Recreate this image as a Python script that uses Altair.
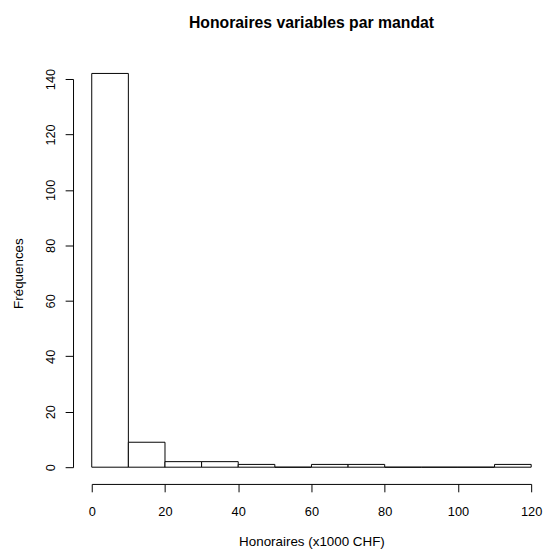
import altair as alt
import pandas as pd

# Histogram bins (x1000 CHF) and frequencies
bin_start = [0, 10, 20, 30, 40, 50, 60, 70, 80, 90, 100, 110]
bin_end = [10, 20, 30, 40, 50, 60, 70, 80, 90, 100, 110, 120]
counts = [142, 9, 2, 2, 1, 0, 1, 1, 0, 0, 0, 1]
x_ticks = [0, 20, 40, 60, 80, 100, 120]
y_ticks = [0, 20, 40, 60, 80, 100, 120, 140]

df = pd.DataFrame({"start": bin_start, "end": bin_end, "count": counts})

FONT = "Liberation Sans"

bars = alt.Chart(df).mark_rect(fill="white", stroke="black", strokeWidth=1).encode(
    x=alt.X(
        "start:Q",
        scale=alt.Scale(domain=[0, 120], nice=False, zero=False),
        axis=alt.Axis(
            values=x_ticks, title="Honoraires (x1000 CHF)", offset=17, tickSize=8,
            labelPadding=14, labelBaseline="top", grid=False, domainColor="black",
            tickColor="black", labelColor="black", labelFont=FONT, labelFontSize=13,
            titleFont=FONT, titleFontSize=13.6, titleFontWeight="normal",
            titleColor="black", titleY=62, titleBaseline="alphabetic",
            labelFlush=False, labelOverlap=False,
        ),
    ),
    x2="end:Q",
    y=alt.Y(
        "count:Q",
        scale=alt.Scale(domain=[0, 140], nice=False),
        axis=alt.Axis(
            values=y_ticks, title="Fréquences", offset=19, tickSize=8,
            labelAngle=270, labelAlign="center", labelBaseline="alphabetic",
            labelPadding=11, grid=False, domainColor="black", tickColor="black",
            labelColor="black", labelFont=FONT, labelFontSize=13, titleFont=FONT,
            titleFontSize=13.6, titleFontWeight="normal", titleColor="black",
            titleAngle=270, titleX=-51, titleBaseline="alphabetic",
            labelFlush=False, labelOverlap=False,
        ),
    ),
    y2=alt.datum(0),
)

chart = bars.properties(
    width=446,
    height=394,
    autosize=alt.AutoSizeParams(type="none"),
    padding={"left": 85, "top": 68, "right": 12, "bottom": 81},
    title=alt.TitleParams(
        "Honoraires variables par mandat", font=FONT, fontSize=16, fontWeight="bold",
        color="black", anchor="middle", frame="group", baseline="alphabetic", offset=25,
    ),
).configure(background="white").configure_view(stroke=None)

chart.save("out.html", embed_options={"renderer": "svg", "actions": False})
